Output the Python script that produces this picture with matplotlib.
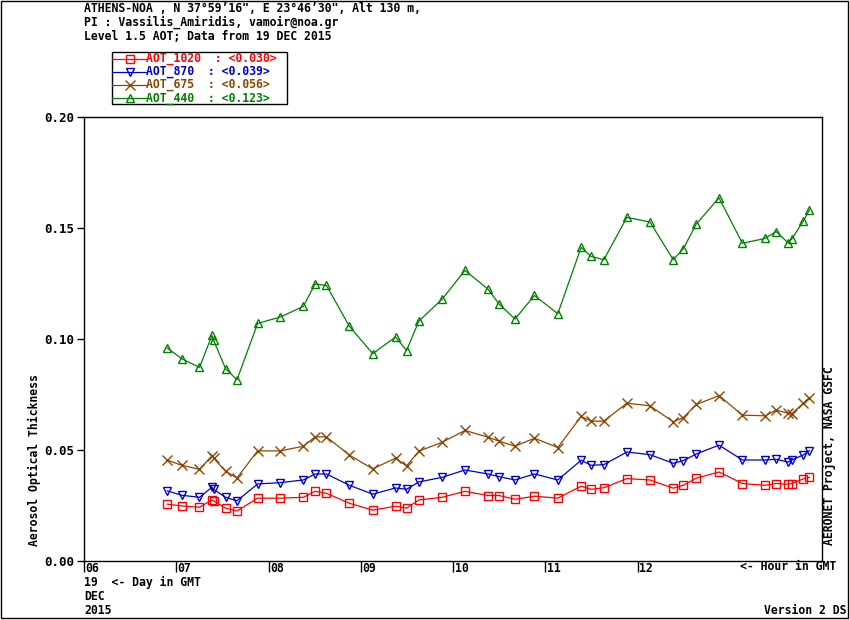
import matplotlib
matplotlib.use('Agg')
import matplotlib.pyplot as plt
import matplotlib.transforms as mtransforms
from matplotlib.lines import Line2D
from matplotlib.patches import Rectangle

# ---------------- data ----------------
hours = [6.904, 7.061, 7.252, 7.387, 7.404, 7.534, 7.658, 7.882, 8.128, 8.378,
         8.505, 8.628, 8.877, 9.130, 9.377, 9.496, 9.630, 9.884, 10.129, 10.379,
         10.498, 10.672, 10.883, 11.136, 11.389, 11.497, 11.635, 11.885, 12.135, 12.388,
         12.496, 12.637, 12.884, 13.137, 13.383, 13.503, 13.633, 13.673, 13.799, 13.864]

aot_1020 = [0.0256, 0.0248, 0.0242, 0.0275, 0.0271, 0.0238, 0.0225, 0.0283, 0.0283, 0.0287,
            0.0314, 0.0305, 0.0260, 0.0229, 0.0247, 0.0238, 0.0275, 0.0287, 0.0314, 0.0295,
            0.0295, 0.0278, 0.0292, 0.0283, 0.0337, 0.0323, 0.0330, 0.0371, 0.0365, 0.0328,
            0.0341, 0.0373, 0.0401, 0.0349, 0.0341, 0.0349, 0.0346, 0.0349, 0.0370, 0.0377]

aot_870 = [0.0316, 0.0296, 0.0287, 0.0332, 0.0323, 0.0287, 0.0271, 0.0347, 0.0353, 0.0365,
           0.0392, 0.0392, 0.0341, 0.0301, 0.0329, 0.0323, 0.0356, 0.0377, 0.0410, 0.0392,
           0.0380, 0.0365, 0.0392, 0.0365, 0.0454, 0.0431, 0.0434, 0.0491, 0.0479, 0.0440,
           0.0452, 0.0482, 0.0522, 0.0455, 0.0455, 0.0458, 0.0446, 0.0455, 0.0478, 0.0497]

aot_675 = [0.0454, 0.0431, 0.0413, 0.0474, 0.0464, 0.0404, 0.0374, 0.0496, 0.0496, 0.0517,
           0.0559, 0.0559, 0.0477, 0.0415, 0.0463, 0.0428, 0.0495, 0.0535, 0.0588, 0.0558,
           0.0540, 0.0517, 0.0553, 0.0511, 0.0651, 0.0630, 0.0630, 0.0711, 0.0699, 0.0627,
           0.0646, 0.0705, 0.0745, 0.0657, 0.0654, 0.0680, 0.0666, 0.0664, 0.0711, 0.0735]

aot_440 = [0.0959, 0.0911, 0.0872, 0.1016, 0.0995, 0.0867, 0.0816, 0.1070, 0.1099, 0.1147,
           0.1248, 0.1241, 0.1057, 0.0934, 0.1009, 0.0948, 0.1081, 0.1180, 0.1309, 0.1225,
           0.1158, 0.1090, 0.1196, 0.1114, 0.1413, 0.1372, 0.1357, 0.1548, 0.1527, 0.1357,
           0.1406, 0.1518, 0.1636, 0.1431, 0.1453, 0.1484, 0.1433, 0.1451, 0.1532, 0.1582]

series_names = ['AOT_1020', 'AOT_870', 'AOT_675', 'AOT_440']
series_means = ['0.030', '0.039', '0.056', '0.123']
series_values = [aot_1020, aot_870, aot_675, aot_440]

hour_ticks = [6, 7, 8, 9, 10, 11, 12]
hour_labels = ['06', '07', '08', '09', '10', '11', '12']
y_ticks = [0.00, 0.05, 0.10, 0.15, 0.20]
y_labels = ['0.00', '0.05', '0.10', '0.15', '0.20']

header_lines = ['ATHENS-NOA , N 37°59’16", E 23°46’30", Alt 130 m,',
                'PI : Vassilis_Amiridis, vamoir@noa.gr',
                'Level 1.5 AOT; Data from 19 DEC 2015']

# ---------------- style ----------------
colors = ['#ff0000', '#0000cc', '#8c4600', '#008000']
markers = ['s', 'v', 'x', '^']
msizes = [5.8, 6.0, 7.0, 6.0]
FONT = 'DejaVu Sans Mono'
FS = 8.3

W, H = 850, 620
fig = plt.figure(figsize=(W / 100, H / 100), dpi=100)


def fx(x):
    return x / W


def fy(y):
    return 1 - y / H


ax = fig.add_axes([fx(84), fy(561), fx(822) - fx(84), fy(117) - fy(561)])

for vals, c, m, ms in zip(series_values, colors, markers, msizes):
    ax.plot(hours, vals, color=c, lw=0.9, marker=m, ms=ms, mfc='none',
            mec=c, mew=1.0)

ax.set_xlim(6, 14)
ax.set_ylim(0, 0.2)
for s in ax.spines.values():
    s.set_linewidth(1.0)

ax.set_yticks(y_ticks)
ax.set_yticklabels(y_labels, fontfamily=FONT, fontweight='bold', fontsize=9)
ax.tick_params(axis='y', direction='out', length=5, width=1, pad=2)
ax.set_xticks(hour_ticks)
ax.set_xticklabels([])
ax.tick_params(axis='x', direction='out', length=8, width=1)

trans = mtransforms.offset_copy(ax.get_xaxis_transform(), fig=fig, x=1.5, y=-1.5, units='dots')
for h, lab in zip(hour_ticks, hour_labels):
    ax.text(h, 0, lab, transform=trans, ha='left', va='top', fontfamily=FONT,
            fontweight='bold', fontsize=FS)

txt = dict(fontfamily=FONT, fontweight='bold', fontsize=FS)
for i, line in enumerate(header_lines):
    fig.text(fx(84), fy(9 + 13.5 * i), line, ha='left', va='center', **txt)

fig.text(fx(740), fy(567), '<- Hour in GMT', ha='left', va='center', **txt)
fig.text(fx(84), fy(582), '19  <- Day in GMT', ha='left', va='center', **txt)
fig.text(fx(84), fy(597), 'DEC', ha='left', va='center', **txt)
fig.text(fx(84), fy(611), '2015', ha='left', va='center', **txt)
fig.text(fx(846), fy(610), 'Version 2 DS', ha='right', va='center', **txt)
fig.text(fx(34), fy(460), 'Aerosol Optical Thickness', rotation=90,
         ha='center', va='center', **txt)
fig.text(fx(830), fy(456), 'AERONET Project, NASA GSFC', rotation=90,
         ha='center', va='center', **txt)

# legend (manual)
fig.patches.append(Rectangle((fx(112), fy(104)), fx(287) - fx(112), fy(52) - fy(104),
                             transform=fig.transFigure, fill=False, lw=1.0, ec='black'))
for i, (name, mean, c, m, ms) in enumerate(zip(series_names, series_means, colors, markers, msizes)):
    yy = fy(58.5 + 13.2 * i)
    fig.add_artist(Line2D([fx(112), fx(146)], [yy, yy], color=c, lw=0.9,
                          transform=fig.transFigure))
    fig.add_artist(Line2D([fx(130)], [yy], color=c, marker=m, ms=ms, mfc='none',
                          mec=c, mew=1.0, transform=fig.transFigure))
    label = f'{name}  : <{mean}>'
    fig.text(fx(146), yy, label, color=c, ha='left', va='center', **txt)

fig.patches.append(Rectangle((fx(1), fy(618)), fx(848) - fx(1), fy(1) - fy(618),
                             transform=fig.transFigure, fill=False, lw=1.0, ec='black'))

fig.savefig('out.png', dpi=100)
